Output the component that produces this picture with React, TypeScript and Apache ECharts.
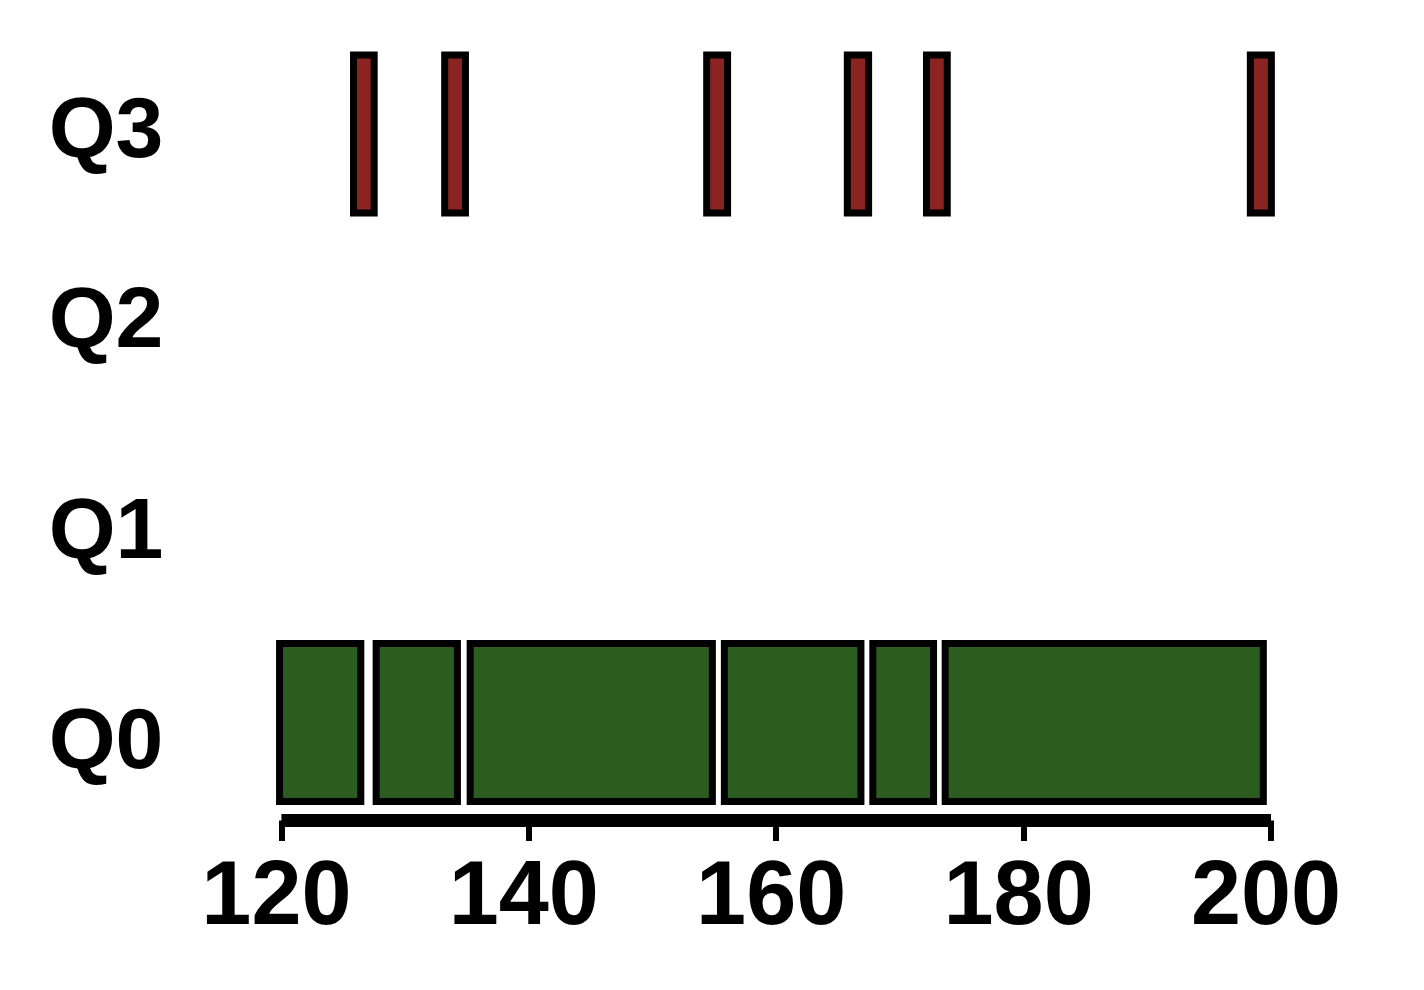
import React, { useEffect, useRef } from "react";
import * as echarts from "echarts";

// Row labels and where they sit on the (hidden) value scale of the rows
const rowLabels = ["Q0", "Q1", "Q2", "Q3"];
const labelRows = [-0.077, 0.992, 2.067, 3.034];

// Row indices of the two series
const q0Row = 0;
const q3Row = 3;

// Q0 intervals (start / end)
const q0Starts = [119.85, 127.66, 135.26, 155.81, 167.81, 173.66];
const q0Ends = [126.42, 134.23, 154.84, 166.85, 172.72, 199.38];

// Q3 intervals (start / end)
const q3Starts = [125.83, 133.2, 154.38, 165.75, 172.15, 198.33];
const q3Ends = [127.5, 134.88, 156.07, 167.47, 173.83, 200.03];

// X axis ticks
const xMin = 120;
const xMax = 200;
const xStep = 20;

const BAR_H = 0.805;
const FONT = "'Liberation Sans', Arial, Helvetica, sans-serif";

export default function App() {
  const ref = useRef<HTMLDivElement>(null);

  useEffect(() => {
    if (!ref.current) return;
    const chart = echarts.init(ref.current, undefined, { renderer: "svg" });

    const q0Data = q0Starts.map((s, i) => [s, q0Ends[i], q0Row]);
    const q3Data = q3Starts.map((s, i) => [s, q3Ends[i], q3Row]);

    const renderItem = (params: any, api: any) => {
      const s = api.value(0);
      const e = api.value(1);
      const r = api.value(2);
      const p0 = api.coord([s, r]);
      const p1 = api.coord([e, r]);
      const h = api.size([0, BAR_H])[1];
      return {
        type: "rect",
        shape: { x: p0[0], y: p0[1] - h / 2, width: p1[0] - p0[0], height: h },
        style: { fill: api.visual("color"), stroke: "#000000", lineWidth: 7 },
      };
    };

    chart.setOption({
      animation: false,
      backgroundColor: "#ffffff",
      grid: { left: 281.4, right: 153, top: 36, bottom: 169.5, containLabel: false },
      xAxis: {
        type: "value",
        min: xMin,
        max: xMax,
        interval: xStep,
        axisLine: { show: true, onZero: false, lineStyle: { color: "#000", width: 13, cap: "butt" } },
        axisTick: { show: true, length: 20.5, lineStyle: { color: "#000", width: 6 } },
        splitLine: { show: false },
        axisLabel: {
          color: "#000",
          fontSize: 90,
          fontWeight: "bold",
          fontFamily: FONT,
          margin: 27,
          padding: [0, 10, 0, 0],
        },
      },
      yAxis: {
        type: "value",
        min: -0.5,
        max: 3.5,
        axisLine: { show: false },
        axisTick: { show: false },
        splitLine: { show: false },
        axisLabel: {
          show: true,
          customValues: labelRows,
          color: "#000",
          fontSize: 86,
          fontWeight: "bold",
          fontFamily: FONT,
          margin: 118,
          formatter: (v: number) => {
            let best = 0;
            labelRows.forEach((p, i) => {
              if (Math.abs(p - v) < Math.abs(labelRows[best] - v)) best = i;
            });
            return rowLabels[best];
          },
        },
      },
      series: [
        {
          name: "Q0",
          type: "custom",
          renderItem,
          clip: false,
          itemStyle: { color: "#2b5c20" },
          encode: { x: [0, 1], y: 2 },
          data: q0Data,
        },
        {
          name: "Q3",
          type: "custom",
          renderItem,
          clip: false,
          itemStyle: { color: "#8a2421" },
          encode: { x: [0, 1], y: 2 },
          data: q3Data,
        },
      ],
    });

    return () => chart.dispose();
  }, []);

  return (
    <div
      ref={ref}
      style={{ position: "fixed", left: 0, top: 0, width: 1424, height: 990, background: "#fff" }}
    />
  );
}
